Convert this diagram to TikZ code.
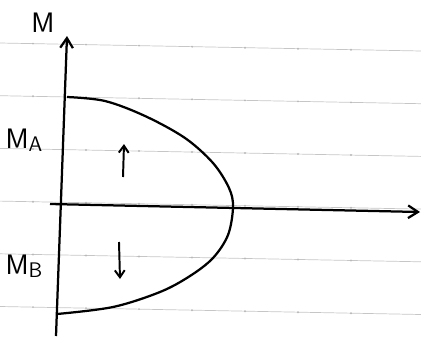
\documentclass[tikz,border=0pt]{standalone}
\usepackage{tikz}
\usetikzlibrary{arrows.meta}

\begin{document}
\begin{tikzpicture}[
    x=0.025cm, y=-0.025cm,
    ruled/.style={draw=gray!45, line width=0.5pt},
    axis/.style={line width=1.6pt, -{Straight Barb[length=7pt, width=9pt]}},
    ink/.style={line width=1.6pt},
    force/.style={line width=1.4pt, -{Straight Barb[length=5pt, width=7pt]}},
    lbl/.style={font=\sffamily\fontsize{20}{22}\selectfont, inner sep=0pt}
]
\useasboundingbox (0,0) rectangle (421,336);

% Paper lines
\foreach \k in {0,...,5} {
    \draw [ruled] (0,{43+52.7*\k}) -- (421,{51+52.7*\k});
    \foreach \d in {1,...,7}
        \fill [gray!55] ({-20+53*\d},{43+52.7*\k+8*(-20+53*\d)/421}) circle (1.1);
}

% Axes
\coordinate (vbot) at (56,336);
\coordinate (vtop) at (67,36);
\coordinate (hleft) at (50,204);
\coordinate (hright) at (420,212);
\draw [axis] (vbot) -- (vtop);
\draw [axis] (hleft) -- (hright);

% Moment curve
\coordinate (ctop) at (67,97);
\coordinate (cright) at (233,207);
\coordinate (cbot) at (57,314);
\draw [ink] plot [smooth, tension=0.55] coordinates {
    (ctop) (105,101) (145,116) (185,138) (213,163) (229,188) (cright)
    (228,235) (213,258) (190,276) (160,292) (113,307) (cbot)};

% Labels
\node [lbl] (m) at (43,23) {M};
\node [lbl] (ma) at (24,140) {M\raisebox{-0.25ex}{\fontsize{15}{16}\selectfont A}};
\node [lbl] (mb) at (24,266) {M\raisebox{-0.25ex}{\fontsize{15}{16}\selectfont B}};

% Arrows
\coordinate (upa) at (123,177);
\coordinate (upb) at (124,144);
\coordinate (dna) at (119,242);
\coordinate (dnb) at (120,279);
\draw [force] (upa) -- (upb);
\draw [force] (dna) -- (dnb);

\end{tikzpicture}
\end{document}
